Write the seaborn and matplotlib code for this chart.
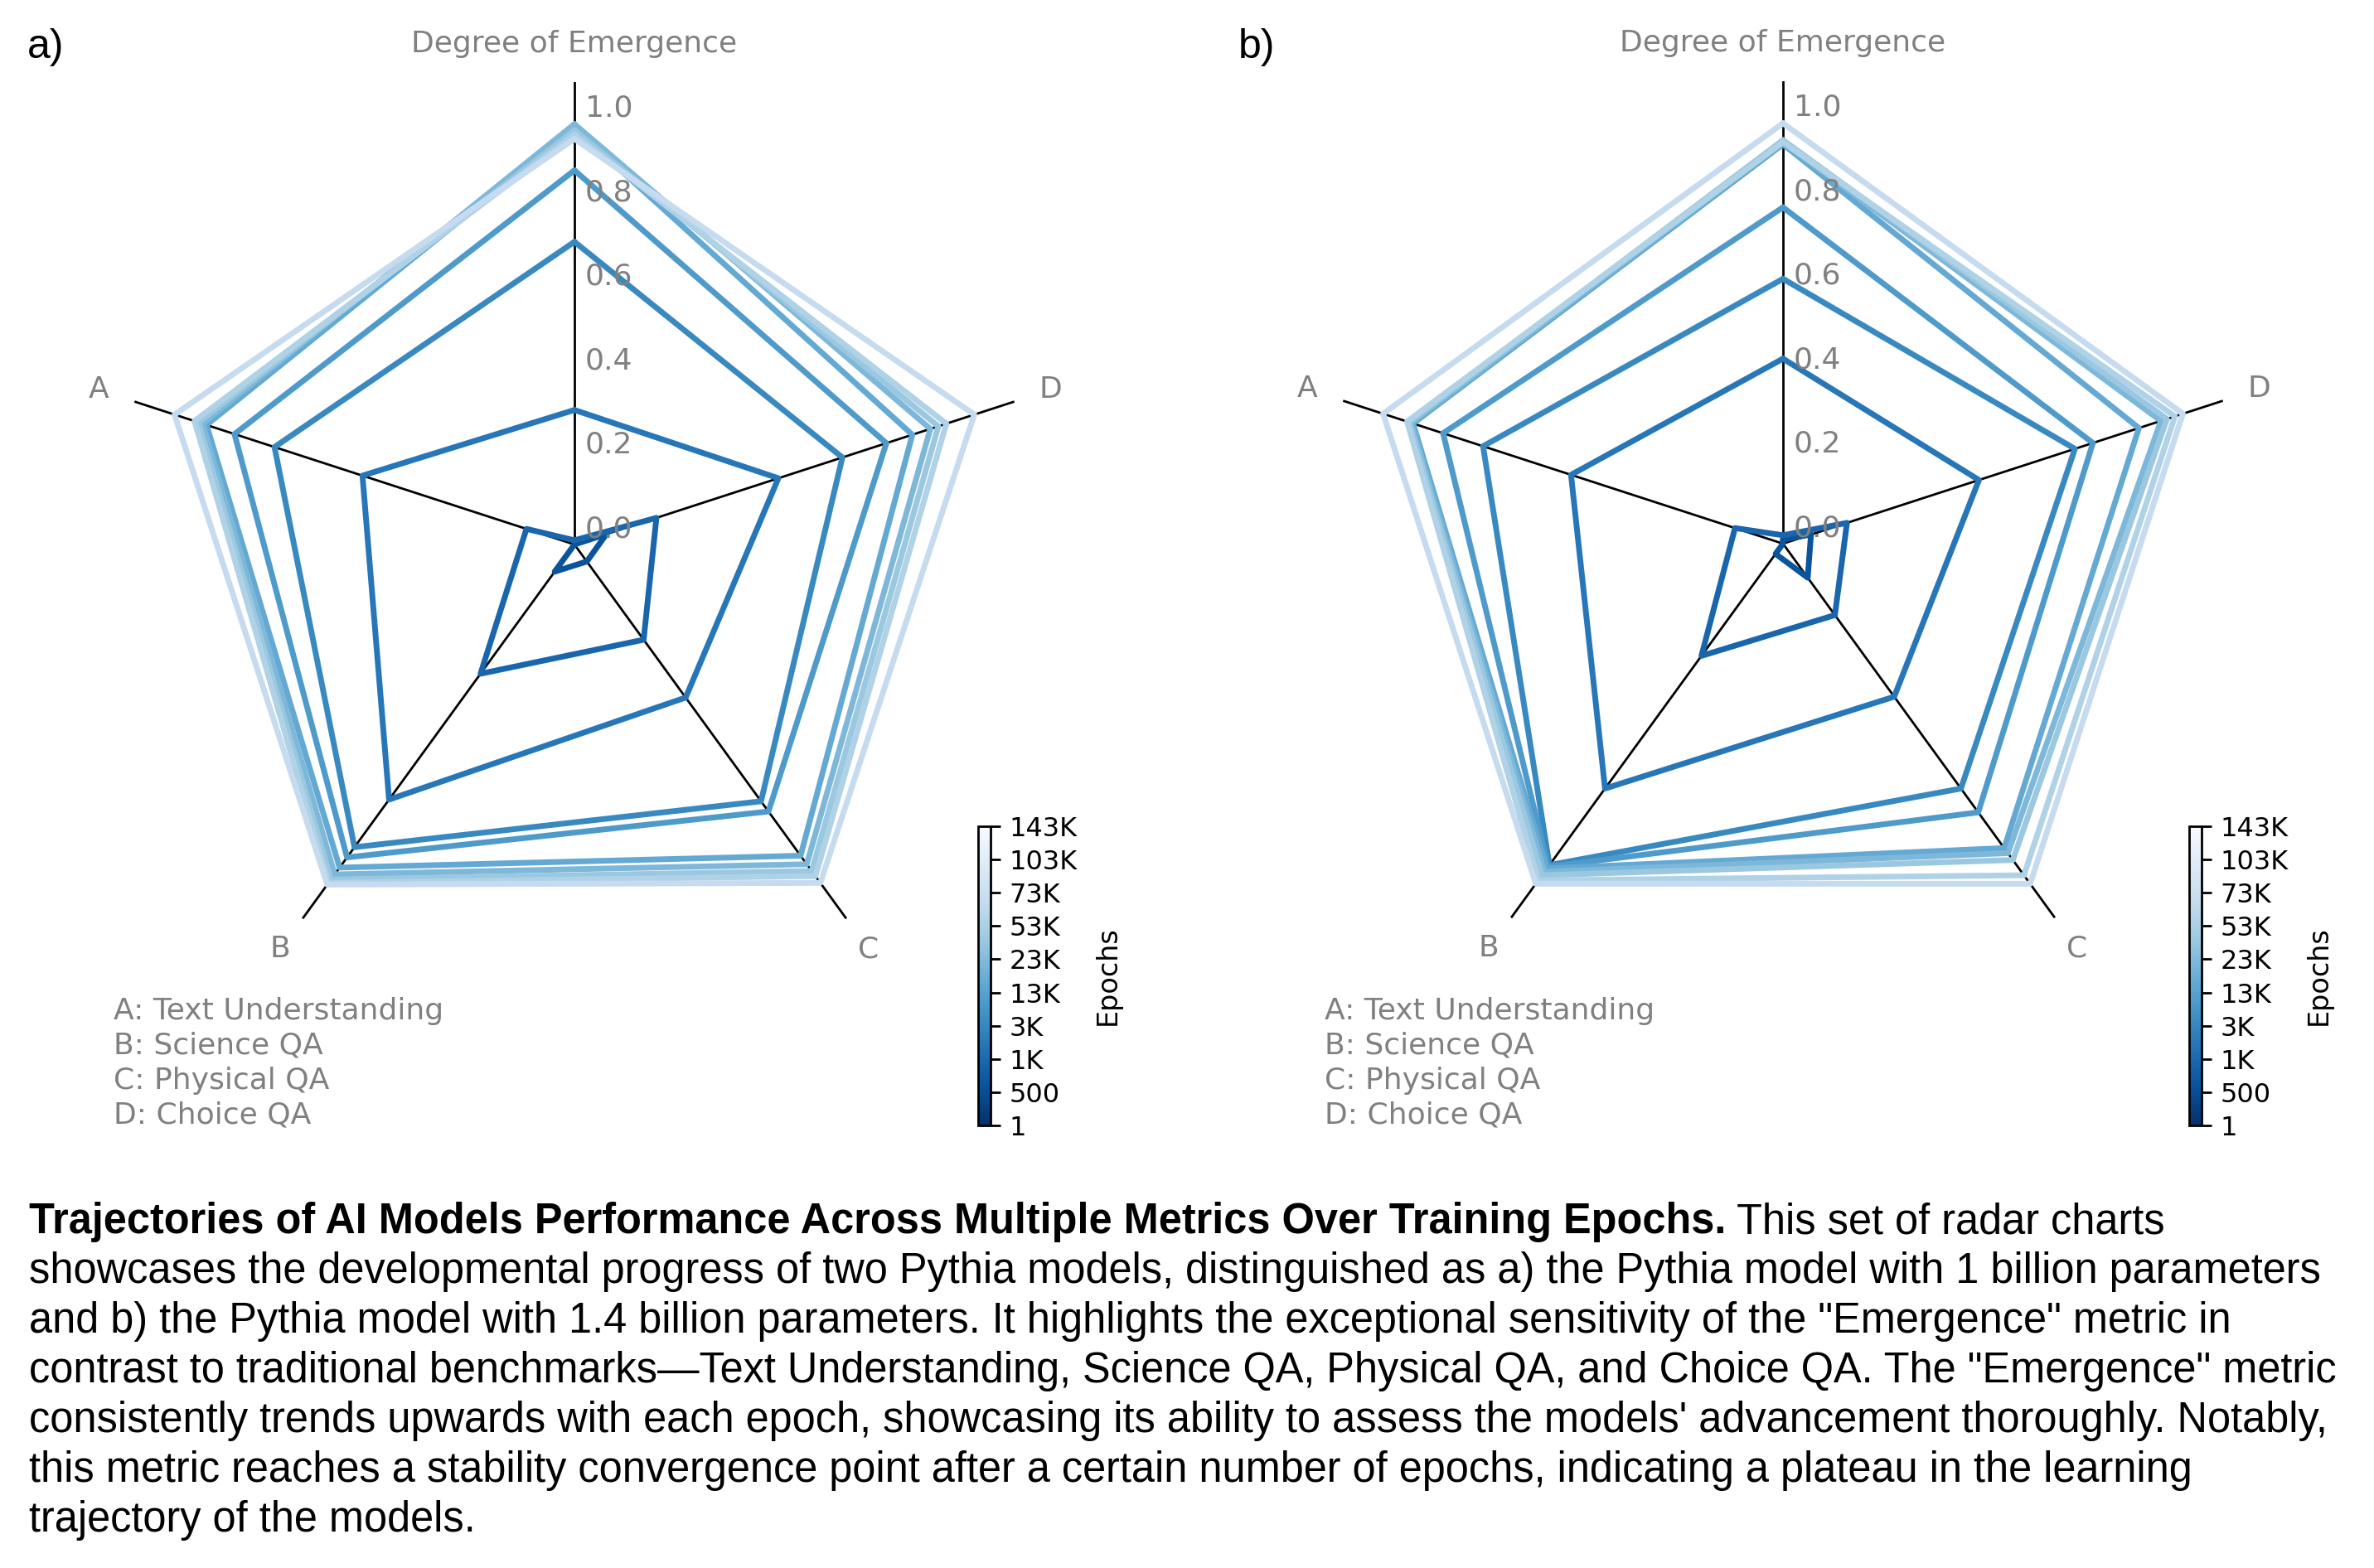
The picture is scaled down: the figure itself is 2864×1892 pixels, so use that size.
import numpy as np
import pandas as pd
import matplotlib as mpl
import matplotlib.pyplot as plt
import seaborn as sns

sns.set_style("white")
plt.rcParams['font.family'] = ['DejaVu Sans']
plt.rcParams['text.color'] = 'black'
plt.rcParams['axes.labelcolor'] = 'black'
plt.rcParams['ytick.color'] = 'black'

metrics = ['Degree of Emergence', 'A', 'B', 'C', 'D']
epochs = ['1', '500', '1K', '3K', '13K', '23K', '53K', '73K', '103K', '143K']
legend_lines = ['A: Text Understanding', 'B: Science QA', 'C: Physical QA', 'D: Choice QA']

# a) Pythia 1B
a_emergence = [0.00, 0.01, 0.32, 0.72, 0.89, 0.99, 1.00, 0.985, 0.975, 0.965]
a_text = [0.00, 0.12, 0.53, 0.75, 0.85, 0.92, 0.93, 0.94, 0.95, 1.00]
a_science = [0.08, 0.38, 0.75, 0.89, 0.92, 0.95, 0.97, 0.985, 0.995, 1.00]
a_physical = [0.05, 0.28, 0.45, 0.755, 0.785, 0.915, 0.94, 0.96, 0.975, 0.995]
a_choice = [0.08, 0.205, 0.51, 0.67, 0.78, 0.845, 0.89, 0.91, 0.93, 1.00]

# b) Pythia 1.4B
b_emergence = [0.01, 0.02, 0.44, 0.63, 0.80, 0.95, 0.955, 0.96, 0.955, 1.00]
b_text = [0.00, 0.12, 0.53, 0.75, 0.85, 0.925, 0.93, 0.935, 0.94, 1.00]
b_science = [0.03, 0.33, 0.72, 0.945, 0.95, 0.955, 0.965, 0.975, 0.99, 1.00]
b_physical = [0.10, 0.21, 0.45, 0.72, 0.79, 0.895, 0.91, 0.93, 0.975, 1.00]
b_choice = [0.07, 0.16, 0.49, 0.73, 0.775, 0.89, 0.945, 0.96, 0.98, 1.00]

caption_bold = "Trajectories of AI Models Performance Across Multiple Metrics Over Training Epochs."
caption_lines = [
    " This set of radar charts",
    "showcases the developmental progress of two Pythia models, distinguished as a) the Pythia model with 1 billion parameters",
    "and b) the Pythia model with 1.4 billion parameters. It highlights the exceptional sensitivity of the \"Emergence\" metric in",
    "contrast to traditional benchmarks\u2014Text Understanding, Science QA, Physical QA, and Choice QA. The \"Emergence\" metric",
    "consistently trends upwards with each epoch, showcasing its ability to assess the models' advancement thoroughly. Notably,",
    "this metric reaches a stability convergence point after a certain number of epochs, indicating a plateau in the learning",
    "trajectory of the models.",
]

W, H = 2864, 1892
DPI = 200
fig = plt.figure(figsize=(W / DPI, H / DPI), dpi=DPI)

angles = np.linspace(0, 2 * np.pi, len(metrics), endpoint=False)
colors = plt.cm.Blues(np.linspace(0.86, 0.25, len(epochs)))
RMAX = 1.1


def long_table(series):
    rows = []
    for i, ep in enumerate(epochs):
        vals = [s[i] for s in series]
        vals = vals + [vals[0]]
        th = list(angles) + [2 * np.pi]
        for t, v in zip(th, vals):
            rows.append({'epoch': ep, 'theta': t, 'r': v})
    return pd.DataFrame(rows)


def radar(cx, cy, series, tag, tag_x, legend_x, cbar_x):
    rad = 558
    ax = fig.add_axes([(cx - rad) / W, 1 - (cy + rad) / H, 2 * rad / W, 2 * rad / H],
                      projection='polar')
    ax.set_theta_offset(np.pi / 2)
    ax.set_theta_direction(1)
    ax.set_ylim(0, RMAX)
    ax.set_xticks([])
    ax.set_yticks([])
    ax.grid(False)
    ax.spines['polar'].set_visible(False)

    for t in angles:
        ax.plot([t, t], [0, RMAX], color='black', lw=1.0, zorder=1)

    df = long_table(series)
    sns.lineplot(data=df, x='theta', y='r', hue='epoch', palette=list(colors),
                 sort=False, estimator=None, linewidth=2.5, legend=False, ax=ax, zorder=3)
    ax.set_xlabel('')
    ax.set_ylabel('')

    for v in np.arange(0, 1.01, 0.2):
        ax.annotate(f'{v:.1f}', xy=(0, v), xytext=(4.7, 6.8), textcoords='offset points',
                    ha='left', va='center', color='gray', fontsize=13, zorder=4)

    for t, name in zip(angles, metrics):
        ax.text(t, 1.19, name, ha='center', va='center', color='gray', fontsize=13)

    for k, line in enumerate(legend_lines):
        fig.text(legend_x / W, 1 - (1220 + 42 * k) / H, line, ha='left', va='center',
                 color='gray', fontsize=13)

    fig.text(tag_x / W, 1 - 57 / H, tag, ha='left', va='center', fontsize=18,
             color='black', family=['Liberation Sans', 'DejaVu Sans'])

    cax = fig.add_axes([cbar_x / W, 1 - 1358 / H, 15 / W, 361 / H])
    cb = mpl.colorbar.ColorbarBase(cax, cmap=plt.cm.Blues_r,
                                   norm=mpl.colors.Normalize(0, len(epochs) - 1),
                                   ticks=range(len(epochs)))
    cb.set_ticklabels(epochs)
    cb.ax.tick_params(labelsize=11.5, length=4.2, width=1, pad=4,
                      colors='black', labelcolor='black')
    cb.outline.set_linewidth(1)
    cb.outline.set_edgecolor('black')
    cb.set_label('Epochs', fontsize=12, labelpad=7, color='black')
    return ax


radar(693, 657, [a_emergence, a_text, a_science, a_physical, a_choice], 'a)', 33, 137, 1180)
radar(2151, 656, [b_emergence, b_text, b_science, b_physical, b_choice], 'b)', 1494, 1598, 2641)

# caption, drawn line by line, first phrase bold
cap_font = ['Liberation Sans', 'DejaVu Sans']
cap_size = 18.2
x0 = 35 / W
renderer = fig.canvas.get_renderer()
first = fig.text(x0, 1 - 1488 / H, caption_bold, ha='left', va='baseline', color='black',
                 fontsize=cap_size, fontweight='bold', family=cap_font)
bb = first.get_window_extent(renderer=renderer)
fig.text(bb.x1 / W, 1 - 1488 / H, caption_lines[0], ha='left', va='baseline',
         color='black', fontsize=cap_size, family=cap_font)
for k, line in enumerate(caption_lines[1:], start=1):
    fig.text(x0, 1 - (1488 + 60 * k) / H, line, ha='left', va='baseline',
             color='black', fontsize=cap_size, family=cap_font)

fig.savefig('out.png', dpi=DPI)
